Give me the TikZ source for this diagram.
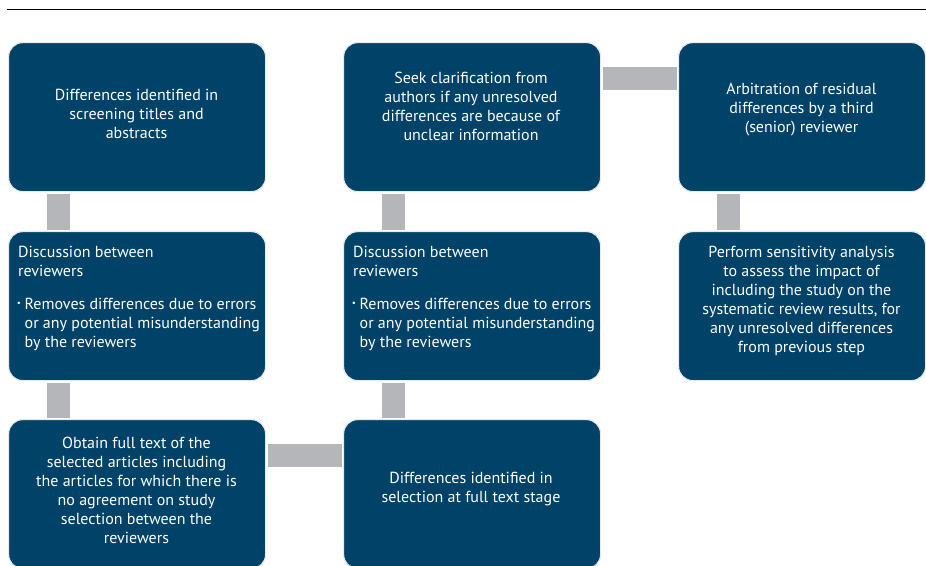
\documentclass[tikz,border=0pt]{standalone}
\usepackage{fontspec}
\setmainfont{PT Sans}
\definecolor{boxblue}{RGB}{0,66,104}
\definecolor{bargrey}{RGB}{181,182,186}
\definecolor{boxedge}{RGB}{232,234,236}
\begin{document}
\begin{tikzpicture}[x=1pt,y=-1pt,
  stepbox/.style={draw=boxedge, line width=1.2pt, fill=boxblue, rounded corners=14pt,
    minimum width=257pt, minimum height=149pt, anchor=north west, inner sep=0pt},
  narrowbox/.style={stepbox, minimum width=247pt},
  label/.style={text=white, font=\fontsize{16}{19}\selectfont, align=center, inner sep=0pt},
  leftlabel/.style={label, align=left, anchor=north west},
  bar/.style={bargrey, line width=23pt}]
  \useasboundingbox (0,0) rectangle (926,565);
  \clip (0,0) rectangle (926,565);

  % rule along the top
  \coordinate (ruleL) at (7,9);
  \coordinate (ruleR) at (926,9);
  \draw[line width=0.9pt] (ruleL) -- (ruleR);

  % boxes
  \node[stepbox] (screen) at (8,42) {};
  \node[stepbox] (discA) at (8,231) {};
  \node[stepbox] (obtain) at (8,419) {};
  \node[stepbox] (seek) at (343,42) {};
  \node[stepbox] (discB) at (343,231) {};
  \node[stepbox] (fulltext) at (343,419) {};
  \node[narrowbox] (arbit) at (678,42) {};
  \node[narrowbox] (sens) at (678,231) {};

  % grey connectors between the boxes
  \draw[bar] ([xshift=50.5pt,yshift=-1.5pt]screen.south west) -- ([xshift=50.5pt,yshift=1.5pt]discA.north west);
  \draw[bar] ([xshift=50.5pt,yshift=-1.5pt]discA.south west) -- ([xshift=50.5pt,yshift=1.5pt]obtain.north west);
  \draw[bar] ([xshift=1.5pt,yshift=-36.5pt]obtain.north east) -- ([xshift=-1.5pt,yshift=-36.5pt]fulltext.north west);
  \draw[bar] ([xshift=50.5pt,yshift=-1.5pt]discB.south west) -- ([xshift=50.5pt,yshift=1.5pt]fulltext.north west);
  \draw[bar] ([xshift=50.5pt,yshift=-1.5pt]seek.south west) -- ([xshift=50.5pt,yshift=1.5pt]discB.north west);
  \draw[bar] ([xshift=1.5pt,yshift=-36.5pt]seek.north east) -- ([xshift=-1.5pt,yshift=-36.5pt]arbit.north west);
  \draw[bar] ([xshift=50.5pt,yshift=-1.5pt]arbit.south west) -- ([xshift=50.5pt,yshift=1.5pt]sens.north west);

  % box texts
  \node[label] (tscreen) at (136.5,114) {Differences identified in\\screening titles and\\abstracts};
  \node[label] (tseek) at (471,106.5) {Seek clarification from\\authors if any unresolved\\differences are because of\\unclear information};
  \node[label] (tarbit) at (801.5,110) {Arbitration of residual\\differences by a third\\(senior) reviewer};
  \node[label] (tsens) at (801.5,300.5) {Perform sensitivity analysis\\to assess the impact of\\including the study on the\\systematic review results, for\\any unresolved differences\\from previous step};
  \node[label] (tobtain) at (136.5,490.5) {Obtain full text of the\\selected articles including\\the articles for which there is\\no agreement on study\\selection between the\\reviewers};
  \node[label] (tfull) at (471,489.5) {Differences identified in\\selection at full text stage};

  \foreach \b/\x in {A/18, B/353}{
    \node[leftlabel] (head\b) at (\x,246) {Discussion between\\reviewers};
    \node[leftlabel] (bul\b) at (\x+6.5,298)
      {\llap{\raisebox{0.5pt}{\scalebox{1.3}{·}}\hspace{3pt}}Removes differences due to errors\\or any potential misunderstanding\\by the reviewers};
  }
\end{tikzpicture}
\end{document}
